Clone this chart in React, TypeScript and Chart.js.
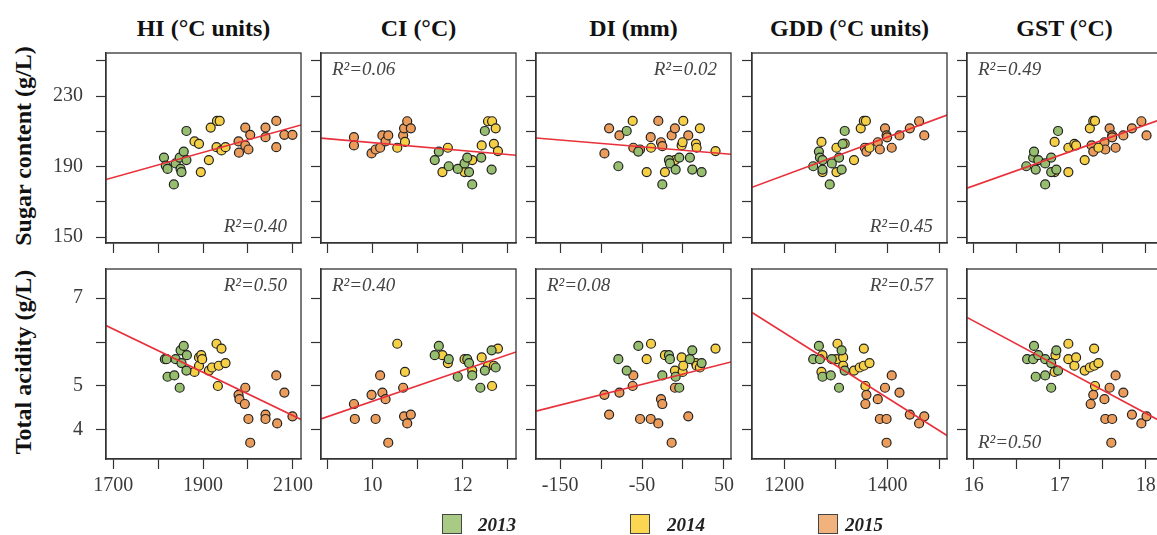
import React, { useEffect, useRef } from 'react';
import { Chart, registerables } from 'chart.js';
Chart.register(...registerables);

// ---------- data ----------
const years = ['2013', '2014', '2015'];
const pointColors = ['#96be6e', '#f5cf45', '#ec9c5a'];
const legendColors = ['#a8ca84', '#fbd653', '#f2b27e'];

const columnTitles = ['HI (°C units)', 'CI (°C)', 'DI (mm)', 'GDD (°C units)', 'GST (°C)'];
const rowTitles = ['Sugar content (g/L)', 'Total acidity (g/L)'];

const xRanges = [[1684, 2118], [8.86, 13.18], [-179.5, 58.7], [1137.5, 1515], [15.92, 18.19]];
const xTicks = [
  [1700, 1800, 1900, 2000, 2100],
  [9, 10, 11, 12, 13],
  [-150, -100, -50, 0, 50],
  [1200, 1300, 1400, 1500],
  [16, 16.5, 17, 17.5, 18],
];
const xTickLabels = [
  ['1700', '', '1900', '', '2100'],
  ['', '10', '', '12', ''],
  ['-150', '', '-50', '', '50'],
  ['1200', '', '1400', ''],
  ['16', '', '17', '', '18'],
];
const yRanges = [[146.7, 254.4], [3.34, 7.66]];
const yTicks = [[150, 170, 190, 210, 230, 250], [4, 5, 6, 7]];
const yTickLabels = [['150', '', '190', '', '230', ''], ['4', '5', '', '7']];

// each panel: [2013 points, 2014 points, 2015 points], point = [x, y]
const hiSugar = [
  [[1813, 195.1], [1817, 190.6], [1821, 188.7], [1839, 191.8], [1835, 179.9], [1848, 195.1], [1850, 188.7], [1852, 186.9], [1857, 198.5], [1863, 193.7], [1863, 210.2]],
  [[1881, 204.3], [1891, 202.9], [1895, 186.9], [1913, 193.7], [1917, 212.1], [1930, 201.0], [1931, 215.9], [1937, 215.9], [1941, 199.2], [1950, 201.0]],
  [[1979, 204.3], [1980, 197.9], [1994, 212.1], [1994, 202.0], [2001, 199.7], [2005, 208.0], [2039, 212.1], [2039, 206.7], [2063, 215.9], [2063, 201.0], [2081, 208.0], [2099, 208.0]],
];
const ciSugar = [
  [[11.38, 193.7], [11.47, 198.5], [11.69, 190.2], [11.89, 188.7], [12.04, 191.8], [12.10, 195.1], [12.14, 186.9], [12.21, 179.9], [12.41, 195.1], [12.49, 210.2], [12.64, 188.3]],
  [[10.55, 200.7], [10.72, 204.0], [11.55, 186.9], [11.67, 200.7], [12.04, 186.9], [12.21, 193.7], [12.42, 202.0], [12.56, 215.7], [12.65, 215.7], [12.69, 202.9], [12.73, 211.7], [12.78, 198.8]],
  [[9.59, 206.7], [9.59, 202.0], [9.98, 197.5], [10.07, 199.7], [10.17, 200.7], [10.22, 207.7], [10.29, 204.3], [10.35, 207.7], [10.68, 207.7], [10.70, 211.7], [10.77, 215.7], [10.85, 211.7]],
];
const diSugar = [
  [[-78.9, 190.2], [-68.7, 210.2], [-54.5, 198.5], [-25.2, 179.9], [-17.1, 193.7], [-15.9, 191.8], [-8.9, 188.3], [-4.5, 195.1], [8.5, 195.1], [11.4, 188.3], [22.8, 186.9]],
  [[-61.4, 215.9], [-44.3, 186.9], [-39.0, 200.7], [-22.0, 186.9], [-9.8, 193.7], [-1.6, 202.0], [-0.4, 203.8], [0.4, 215.9], [15.9, 202.9], [16.7, 200.7], [20.7, 211.7], [39.8, 198.8]],
  [[-95.9, 197.5], [-90.2, 211.7], [-77.6, 207.7], [-60.6, 200.7], [-52.4, 199.7], [-39.4, 206.7], [-30.1, 215.9], [-26.8, 203.8], [-25.2, 201.6], [-13.8, 207.7], [-9.8, 211.7], [6.5, 207.7]],
];
const gddSugar = [
  [[1256, 190.2], [1267, 198.5], [1269, 195.1], [1274, 193.7], [1274, 188.3], [1288, 179.9], [1292, 191.8], [1306, 195.1], [1311, 188.3], [1313, 202.9], [1317, 210.2]],
  [[1272, 204.0], [1274, 186.9], [1301, 200.7], [1301, 186.9], [1317, 203.0], [1335, 193.7], [1348, 211.7], [1354, 215.9], [1358, 215.9], [1365, 200.7]],
  [[1356, 200.7], [1359, 198.5], [1381, 203.8], [1385, 199.7], [1395, 211.7], [1398, 207.7], [1399, 206.6], [1408, 200.7], [1423, 207.7], [1443, 211.7], [1461, 215.7], [1471, 207.7]],
];
const gstSugar = [
  [[16.61, 190.2], [16.69, 195.1], [16.70, 198.5], [16.72, 188.3], [16.75, 193.7], [16.83, 191.8], [16.83, 179.9], [16.90, 195.1], [16.90, 186.9], [16.96, 188.3], [16.98, 210.2]],
  [[16.94, 204.0], [16.94, 186.9], [17.10, 200.7], [17.10, 186.9], [17.17, 202.9], [17.19, 202.0], [17.29, 193.7], [17.35, 211.7], [17.39, 215.9], [17.41, 215.9], [17.45, 200.7]],
  [[17.37, 202.0], [17.39, 198.5], [17.52, 203.8], [17.53, 199.7], [17.58, 211.7], [17.61, 207.7], [17.61, 206.6], [17.65, 200.7], [17.74, 207.7], [17.84, 211.7], [17.95, 215.7], [18.01, 207.7]],
];
const hiAcid = [
  [[1815, 5.61], [1819, 5.61], [1821, 5.21], [1836, 5.24], [1839, 5.61], [1848, 4.96], [1850, 5.81], [1852, 5.52], [1857, 5.91], [1863, 5.35], [1864, 5.70]],
  [[1881, 5.32], [1891, 5.46], [1891, 5.65], [1896, 5.70], [1898, 5.61], [1913, 5.35], [1920, 5.42], [1930, 5.96], [1933, 5.00], [1935, 5.46], [1941, 5.85], [1950, 5.52]],
  [[1979, 4.80], [1981, 4.70], [1993, 4.59], [1994, 4.96], [2001, 4.25], [2005, 3.71], [2039, 4.35], [2039, 4.25], [2063, 5.24], [2065, 4.15], [2081, 4.85], [2099, 4.31]],
];
const ciAcid = [
  [[11.38, 5.70], [11.47, 5.91], [11.69, 5.61], [11.89, 5.21], [12.10, 5.61], [12.14, 5.52], [12.21, 5.24], [12.39, 4.96], [12.49, 5.35], [12.64, 5.81], [12.73, 5.42]],
  [[10.55, 5.96], [10.72, 5.32], [11.55, 5.70], [11.67, 5.52], [12.04, 5.61], [12.21, 5.35], [12.42, 5.65], [12.56, 5.46], [12.65, 5.00], [12.69, 5.46], [12.78, 5.85]],
  [[9.59, 4.59], [9.61, 4.25], [9.98, 4.80], [10.07, 4.25], [10.17, 5.24], [10.22, 4.85], [10.29, 4.70], [10.35, 3.71], [10.68, 4.96], [10.70, 4.31], [10.77, 4.15], [10.85, 4.35]],
];
const diAcid = [
  [[-78.9, 5.61], [-68.7, 5.35], [-54.5, 5.91], [-25.2, 5.24], [-17.1, 5.70], [-15.9, 5.61], [-8.9, 5.21], [-4.5, 4.96], [8.5, 5.61], [11.4, 5.81], [22.8, 5.52]],
  [[-44.3, 5.61], [-39.0, 5.96], [-22.0, 5.70], [-9.8, 5.35], [-1.6, 5.65], [-0.4, 5.32], [0.4, 5.46], [15.9, 5.52], [16.7, 5.46], [20.7, 5.42], [39.8, 5.85]],
  [[-95.9, 4.80], [-90.2, 4.35], [-77.6, 4.85], [-61.4, 5.00], [-60.6, 5.24], [-52.4, 4.25], [-39.4, 4.25], [-30.1, 4.15], [-26.8, 4.70], [-25.2, 4.59], [-13.8, 3.71], [-9.8, 4.96], [6.5, 4.31]],
];
const gddAcid = [
  [[1256, 5.61], [1267, 5.91], [1269, 5.61], [1274, 5.21], [1290, 5.24], [1292, 5.61], [1306, 4.96], [1311, 5.81], [1317, 5.35]],
  [[1272, 5.32], [1274, 5.70], [1301, 5.61], [1303, 5.96], [1314, 5.65], [1314, 5.46], [1335, 5.35], [1346, 5.42], [1354, 5.85], [1354, 5.46], [1357, 5.00], [1365, 5.52]],
  [[1357, 4.59], [1359, 4.80], [1381, 4.70], [1385, 4.25], [1395, 4.96], [1398, 4.25], [1398, 3.71], [1408, 5.24], [1423, 4.85], [1443, 4.35], [1461, 4.15], [1471, 4.31]],
];
const gstAcid = [
  [[16.62, 5.61], [16.69, 5.61], [16.70, 5.91], [16.72, 5.21], [16.75, 5.70], [16.83, 5.61], [16.83, 5.24], [16.90, 5.52], [16.90, 4.96], [16.96, 5.81], [16.98, 5.35]],
  [[16.94, 5.32], [16.95, 5.70], [17.10, 5.96], [17.10, 5.61], [17.17, 5.46], [17.19, 5.65], [17.29, 5.35], [17.35, 5.42], [17.40, 5.85], [17.40, 5.46], [17.41, 5.00], [17.45, 5.52]],
  [[17.36, 4.59], [17.39, 4.80], [17.52, 4.70], [17.53, 4.25], [17.58, 4.96], [17.60, 3.71], [17.61, 4.25], [17.65, 5.24], [17.74, 4.85], [17.84, 4.35], [17.95, 4.15], [18.01, 4.31]],
];

// fitted regression lines: [slope, intercept]
const sugarFits = [[0.0714, 62.4], [-2.26, 226.2], [-0.0386, 199.3], [0.1084, 55.0], [17.26, -97.0]];
const acidFits = [[-0.00492, 14.66], [0.3525, 1.127], [0.00469, 5.27], [-0.00741, 15.10], [-1.0475, 23.236]];
const sugarR2 = ['R²=0.40', 'R²=0.06', 'R²=0.02', 'R²=0.45', 'R²=0.49'];
const acidR2 = ['R²=0.50', 'R²=0.40', 'R²=0.08', 'R²=0.57', 'R²=0.50'];
const sugarR2Corner = ['br', 'tl', 'tr', 'br', 'tl'];
const acidR2Corner = ['tr', 'tl', 'tl', 'tr', 'bl'];

const panelData = [
  [hiSugar, ciSugar, diSugar, gddSugar, gstSugar],
  [hiAcid, ciAcid, diAcid, gddAcid, gstAcid],
];
const panelFits = [sugarFits, acidFits];
const panelR2 = [sugarR2, acidR2];
const panelR2Corner = [sugarR2Corner, acidR2Corner];

// ---------- layout ----------
const PANEL_LEFTS = [106, 321, 536, 752, 967];
const PANEL_TOPS = [48, 264];
const PANEL_SIZE = 195;
const PAD_L = 75, PAD_R = 20, PAD_T = 20, PAD_B = 50;
const FONT = '"Liberation Serif", "Times New Roman", serif';

const framePlugin = {
  id: 'frame',
  afterDatasetsDraw(chart: any, _args: any, opts: any) {
    const { ctx, chartArea: a } = chart;
    ctx.save();
    ctx.strokeStyle = '#333';
    ctx.lineWidth = 1.3;
    ctx.strokeRect(a.left, a.top, a.right - a.left, a.bottom - a.top);
    ctx.font = 'italic 19px ' + FONT;
    ctx.fillStyle = '#444';
    ctx.textBaseline = 'middle';
    const c = opts.corner as string;
    let x = 0, y = 0;
    if (c[1] === 'l') { ctx.textAlign = 'left'; x = a.left + 11; } else { ctx.textAlign = 'right'; x = a.right - 14; }
    if (c[0] === 't') { y = a.top + 17; } else { y = a.bottom - 16; }
    ctx.fillText(opts.text, x, y);
    ctx.restore();
  },
};

function Panel({ row, col }: { row: number; col: number }) {
  const ref = useRef<HTMLCanvasElement>(null);
  useEffect(() => {
    const data = panelData[row][col];
    const fit = panelFits[row][col];
    const [xmin, xmax] = xRanges[col];
    const [ymin, ymax] = yRanges[row];
    const datasets: any[] = data.map((pts: number[][], yi: number) => ({
      type: 'scatter',
      label: years[yi],
      data: pts.map(([x, y]) => ({ x, y })),
      backgroundColor: pointColors[yi],
      borderColor: '#222',
      borderWidth: 1.2,
      pointRadius: 4.5,
      order: 1,
    }));
    datasets.push({
      type: 'line',
      label: 'fit',
      data: [
        { x: xmin, y: fit[0] * xmin + fit[1] },
        { x: xmax, y: fit[0] * xmax + fit[1] },
      ],
      borderColor: '#e8303a',
      borderWidth: 1.6,
      pointRadius: 0,
      fill: false,
      order: 0,
    });
    const tickFont = { family: FONT, size: 20 };
    const chart = new Chart(ref.current as HTMLCanvasElement, {
      type: 'scatter',
      data: { datasets },
      options: {
        responsive: false,
        animation: false,
        events: [],
        layout: { padding: { top: PAD_T, right: PAD_R, left: 0, bottom: 0 }, autoPadding: false } as any,
        plugins: {
          legend: { display: false },
          tooltip: { enabled: false },
          frame: { text: panelR2[row][col], corner: panelR2Corner[row][col] },
        } as any,
        scales: {
          x: {
            type: 'linear',
            min: xmin,
            max: xmax,
            afterBuildTicks: (axis: any) => { axis.ticks = xTicks[col].map((v) => ({ value: v })); },
            afterFit: (axis: any) => { axis.height = PAD_B; },
            ticks: {
              autoSkip: false,
              maxRotation: 0,
              minRotation: 0,
              padding: 5,
              color: '#3a3a3a',
              font: tickFont,
              callback: (_v: any, i: number) => (row === 1 ? xTickLabels[col][i] : ''),
            },
            grid: { display: true, drawOnChartArea: false, drawTicks: true, tickLength: 10, tickColor: '#333', tickWidth: 1.2 },
            border: { display: true, color: '#333', width: 1.3 },
          },
          y: {
            type: 'linear',
            min: ymin,
            max: ymax,
            afterBuildTicks: (axis: any) => { axis.ticks = yTicks[row].map((v) => ({ value: v })); },
            afterFit: (axis: any) => { axis.width = PAD_L; },
            ticks: {
              autoSkip: false,
              padding: 13,
              color: '#3a3a3a',
              font: tickFont,
              callback: (_v: any, i: number) => (col === 0 ? yTickLabels[row][i] : ''),
            },
            grid: { display: true, drawOnChartArea: false, drawTicks: true, tickLength: 10, tickColor: '#333', tickWidth: 1.2 },
            border: { display: true, color: '#333', width: 1.3 },
          },
        },
      } as any,
      plugins: [framePlugin],
    });
    return () => chart.destroy();
  }, [row, col]);
  const w = PAD_L + PANEL_SIZE + PAD_R;
  const h = PAD_T + PANEL_SIZE + PAD_B;
  return (
    <canvas
      ref={ref}
      width={w}
      height={h}
      style={{ position: 'absolute', left: PANEL_LEFTS[col] - PAD_L, top: PANEL_TOPS[row] - PAD_T, width: w, height: h }}
    />
  );
}

const LEGEND_SQUARE_LEFTS = [442, 630, 818];
const LEGEND_TEXT_LEFTS = [478, 667, 845];

export default function App() {
  return (
    <div style={{ position: 'absolute', left: 0, top: 0, width: 1157, height: 535, overflow: 'hidden', background: '#fff', fontFamily: FONT, color: '#111' }}>
      {columnTitles.map((t, c) => (
        <div key={t} style={{ position: 'absolute', left: PANEL_LEFTS[c] - 20, width: PANEL_SIZE + 40, top: 13, lineHeight: '30px', fontSize: 24, fontWeight: 'bold', textAlign: 'center', whiteSpace: 'nowrap' }}>{t}</div>
      ))}
      {rowTitles.map((t, r) => (
        <div key={t} style={{ position: 'absolute', left: 23 - 130, top: PANEL_TOPS[r] + PANEL_SIZE / 2 - 15, width: 260, lineHeight: '30px', fontSize: 24, fontWeight: 'bold', textAlign: 'center', whiteSpace: 'nowrap', transform: 'rotate(-90deg)' }}>{t}</div>
      ))}
      {[0, 1].map((r) => [0, 1, 2, 3, 4].map((c) => <Panel key={r + '-' + c} row={r} col={c} />))}
      {years.map((y, i) => (
        <React.Fragment key={y}>
          <div style={{ position: 'absolute', left: LEGEND_SQUARE_LEFTS[i], top: 514, width: 20, height: 20, background: legendColors[i], border: '1px solid #444', boxSizing: 'border-box' }} />
          <div style={{ position: 'absolute', left: LEGEND_TEXT_LEFTS[i], top: 513, lineHeight: '24px', fontSize: 19, fontWeight: 'bold', fontStyle: 'italic', color: '#222' }}>{y}</div>
        </React.Fragment>
      ))}
    </div>
  );
}
